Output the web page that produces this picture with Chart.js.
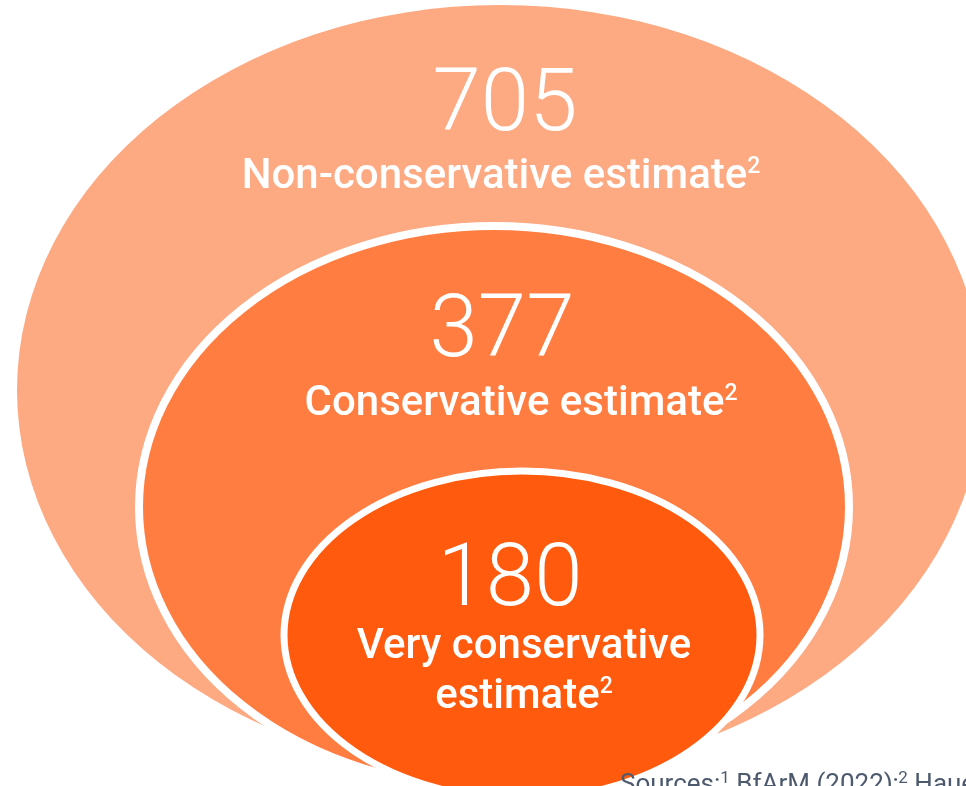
<!DOCTYPE html>
<html>
<head>
<meta charset="utf-8">
<style>
	html, body { margin: 0; padding: 0; background: #fff; overflow: hidden; }
	#wrap { width: 966px; height: 786px; position: relative; }
</style>
<script src="https://cdn.jsdelivr.net/npm/chart.js@4/dist/chart.umd.min.js"></script>
</head>
<body>
<div id="wrap"><canvas id="ellipse-chart" width="966" height="786"></canvas></div>
<script>
// data
const categories = ["Non-conservative estimate", "Conservative estimate", "Very conservative estimate"];
const categoryLines = [["Non-conservative estimate"], ["Conservative estimate"], ["Very conservative", "estimate"]];
const values = [705, 377, 180];
const footnoteMarks = ["2", "2", "2"];
const sourceParts = [
	{ t: "Sources:" }, { t: "1", sup: true }, { t: " BfArM (2022);" }, { t: "2", sup: true }, { t: " Haue" }
];

// layout / style (in canvas units, mapped through the hidden scales)
const shapes = [
	{ cx: 500, cy: 390, rx: 483, ry: 385, color: "#FDA982", border: 0 },
	{ cx: 494, cy: 507, rx: 355, ry: 281, color: "#FF7D40", border: 8 },
	{ cx: 522, cy: 635, rx: 238, ry: 164, color: "#FF5A0D", border: 7 }
];
const textPos = [
	{ valueX: 505, valueY: 130, labelX: 501, labelY: 188 },
	{ valueX: 502, valueY: 356, labelX: 521, labelY: 415 },
	{ valueX: 510, valueY: 605, labelX: 524, labelY: 658 }
];
const lineGap = 50;
const fontFamily = "Roboto, 'Open Sans', sans-serif";

function drawRich(ctx, parts, x, y, size, weight, align, supRatio) {
	const supSize = Math.round(size * (supRatio || 0.55));
	const widths = parts.map(p => {
		ctx.font = weight + " " + (p.sup ? supSize : size) + "px " + fontFamily;
		return ctx.measureText(p.t).width;
	});
	const total = widths.reduce((a, b) => a + b, 0);
	let cur = align === "center" ? x - total / 2 : x;
	parts.forEach((p, i) => {
		ctx.font = weight + " " + (p.sup ? supSize : size) + "px " + fontFamily;
		ctx.fillText(p.t, cur, p.sup ? y - size * 0.36 : y);
		cur += widths[i];
	});
}

const ellipsePlugin = {
	id: "ellipses",
	beforeDatasetsDraw(chart) {
		const ctx = chart.ctx;
		const xs = chart.scales.x;
		const ys = chart.scales.y;
		ctx.save();
		chart.data.datasets.forEach((ds, i) => {
			const pt = chart.getDatasetMeta(i).data[0];
			const s = shapes[i];
			const rx = xs.getPixelForValue(s.cx + s.rx) - pt.x;
			const ry = ys.getPixelForValue(s.cy + s.ry) - pt.y;
			ctx.beginPath();
			ctx.ellipse(pt.x, pt.y, Math.abs(rx), Math.abs(ry), 0, 0, Math.PI * 2);
			ctx.fillStyle = s.color;
			ctx.fill();
			if (s.border) {
				ctx.lineWidth = s.border;
				ctx.strokeStyle = "#fff";
				ctx.stroke();
			}
		});
		ctx.restore();
	},
	afterDatasetsDraw(chart) {
		const ctx = chart.ctx;
		const xs = chart.scales.x;
		const ys = chart.scales.y;
		ctx.save();
		ctx.fillStyle = "#fff";
		ctx.textBaseline = "alphabetic";
		ctx.textAlign = "left";
		chart.data.datasets.forEach((ds, i) => {
			const p = textPos[i];
			drawRich(ctx, [{ t: String(ds.data[0].v) }], xs.getPixelForValue(p.valueX), ys.getPixelForValue(p.valueY), 87, "300", "center");
			const lines = categoryLines[i];
			lines.forEach((line, j) => {
				const parts = [{ t: line }];
				if (j === lines.length - 1) parts.push({ t: footnoteMarks[i], sup: true });
				drawRich(ctx, parts, xs.getPixelForValue(p.labelX), ys.getPixelForValue(p.labelY + j * lineGap), 42, "500", "center");
			});
		});
		ctx.fillStyle = "#4d5a6e";
		drawRich(ctx, sourceParts, xs.getPixelForValue(620), ys.getPixelForValue(792), 26, "400", "left", 0.65);
		ctx.restore();
	}
};

function build() {
	const ctx = document.getElementById("ellipse-chart").getContext("2d");
	new Chart(ctx, {
		type: "scatter",
		data: {
			datasets: categories.map((c, i) => ({
				label: c,
				data: [{ x: shapes[i].cx, y: shapes[i].cy, v: values[i] }],
				pointRadius: 0,
				backgroundColor: shapes[i].color
			}))
		},
		options: {
			responsive: false,
			animation: false,
			layout: { padding: 0 },
			plugins: { legend: { display: false }, tooltip: { enabled: false } },
			scales: {
				x: { type: "linear", min: 0, max: 966, display: false },
				y: { type: "linear", min: 0, max: 786, reverse: true, display: false }
			}
		},
		plugins: [ellipsePlugin]
	});
}

Promise.all([
	document.fonts.load("300 87px Roboto"),
	document.fonts.load("500 42px Roboto"),
	document.fonts.load("400 26px Roboto")
]).then(build, build);
</script>
</body>
</html>
